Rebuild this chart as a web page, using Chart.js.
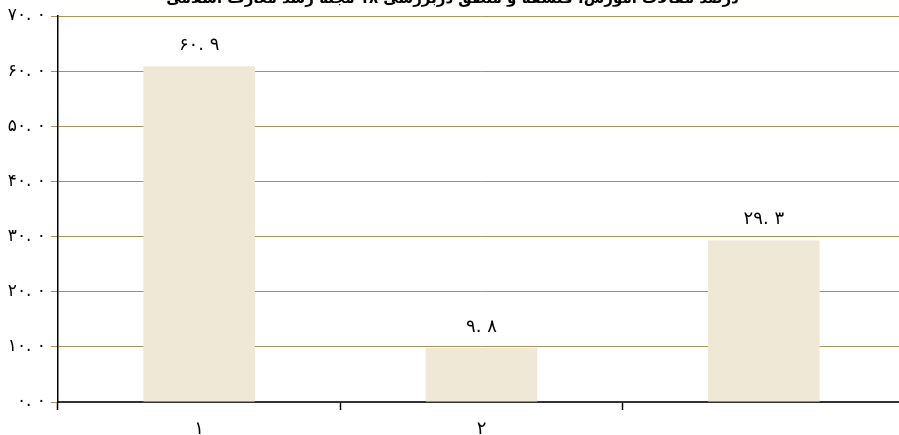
<!DOCTYPE html>
<html lang="fa">
<head>
<meta charset="utf-8">
<script src="https://cdn.jsdelivr.net/npm/chart.js@4.4.1/dist/chart.umd.min.js"></script>
<style>
    html, body { margin: 0; padding: 0; background: #fff; overflow: hidden; width: 899px; height: 435px; }
    #wrap { position: absolute; left: 0; top: -10px; }
</style>
</head>
<body>
<div id="wrap"><canvas id="chart" width="905" height="445"></canvas></div>
<script>
// Chart data
const chartTitle = 'درصد مقالات آموزش، فلسفه و منطق دربررسی ۱۸ مجله رشد معارف اسلامی';
const categories = ['۱', '۲', ''];
const values = [60.9, 9.8, 29.3];
const valueLabels = ['۶۰. ۹', '۹. ۸', '۲۹. ۳'];
const yTickLabels = ['۰. ۰', '۱۰. ۰', '۲۰. ۰', '۳۰. ۰', '۴۰. ۰', '۵۰. ۰', '۶۰. ۰', '۷۰. ۰'];

const fontFamily = "'DejaVu Sans', sans-serif";
const gridColor = '#a89456';

// Draw the value above each bar
const valueLabelPlugin = {
    id: 'valueLabels',
    afterDatasetsDraw(chart) {
        const ctx = chart.ctx;
        const meta = chart.getDatasetMeta(0);
        ctx.save();
        ctx.font = '18px ' + fontFamily;
        ctx.fillStyle = '#000';
        ctx.textAlign = 'center';
        ctx.textBaseline = 'alphabetic';
        meta.data.forEach((bar, i) => {
            ctx.fillText(valueLabels[i], bar.x, bar.y - 16);
        });
        ctx.restore();
    }
};

const ctx = document.getElementById('chart').getContext('2d');
new Chart(ctx, {
    type: 'bar',
    data: {
        labels: categories,
        datasets: [{
            data: values,
            backgroundColor: '#efe8d6',
            borderWidth: 0,
            categoryPercentage: 1,
            barPercentage: 0.395
        }]
    },
    options: {
        responsive: false,
        animation: false,
        devicePixelRatio: 1,
        layout: { padding: 0 },
        plugins: {
            legend: { display: false },
            tooltip: { enabled: false },
            title: {
                display: true,
                text: chartTitle,
                color: '#000',
                font: { family: fontFamily, size: 15, weight: 'bold', lineHeight: 1.2 },
                padding: { top: 0, bottom: 8 }
            }
        },
        scales: {
            x: {
                offset: true,
                afterFit: function(scale) { scale.height = 33; },
                border: { display: true, color: '#333', width: 2 },
                grid: {
                    offset: true,
                    drawOnChartArea: false,
                    drawTicks: true,
                    tickLength: 8,
                    tickColor: '#000',
                    tickWidth: 1.5
                },
                ticks: {
                    color: '#000',
                    padding: 9,
                    font: { family: fontFamily, size: 18 }
                }
            },
            y: {
                min: 0,
                max: 70,
                afterFit: function(scale) { scale.width = 58; },
                border: { display: true, color: '#000', width: 1.5 },
                grid: {
                    color: gridColor,
                    lineWidth: 1,
                    drawTicks: true,
                    tickLength: 7,
                    tickColor: gridColor
                },
                ticks: {
                    stepSize: 10,
                    color: '#000',
                    padding: 5,
                    font: { family: fontFamily, size: 17 },
                    callback: function(value, index) { return yTickLabels[index]; }
                }
            }
        }
    },
    plugins: [valueLabelPlugin]
});
</script>
</body>
</html>
